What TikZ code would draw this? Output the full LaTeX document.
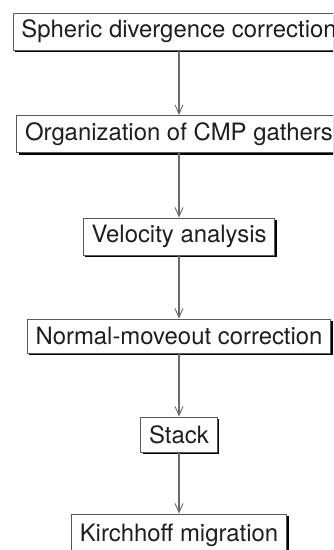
\documentclass[tikz,border=0pt]{standalone}
\usepackage{fontspec}
\setmainfont{TeX Gyre Heros}
\usetikzlibrary{arrows.meta,shadows}
\definecolor{edgegray}{HTML}{5A5A5A}
\definecolor{linegray}{HTML}{6A6A6A}
\definecolor{txt}{HTML}{1E1E1E}
\begin{document}
\begin{tikzpicture}[x=1pt,y=1pt,
  stepbox/.style={draw=edgegray, line width=1pt, fill=white, text=txt,
    font=\fontsize{23.9}{28}\selectfont, inner xsep=8.3pt, inner ysep=0pt,
    minimum height=37pt, anchor=center,
    drop shadow={shadow xshift=2pt, shadow yshift=-2pt, fill=black, opacity=1}},
  flow/.style={draw=linegray, line width=1.1pt,
    -{Straight Barb[length=9pt,width=8pt,line width=0.9pt]}}]
\useasboundingbox (0,0) rectangle (333,-550);
\clip (0,0) rectangle (333,-550);
\node[stepbox] (s1) at (179,-31.5) {Spheric divergence correction};
\node[stepbox] (s2) at (179,-134) {Organization of CMP gathers};
\node[stepbox] (s3) at (179,-236.5) {Velocity analysis};
\node[stepbox, minimum height=34pt] (s4) at (179,-336) {Normal-moveout correction};
\node[stepbox, minimum height=35pt] (s5) at (179,-434.5) {Stack};
\node[stepbox, minimum height=42pt] (s6) at (179,-535) {Kirchhoff migration};
\draw[flow] (s1) -- (s2);
\draw[flow] (s2) -- (s3);
\draw[flow] (s3) -- (s4);
\draw[flow] (s4) -- (s5);
\draw[flow] (s5) -- (s6);
\end{tikzpicture}
\end{document}
